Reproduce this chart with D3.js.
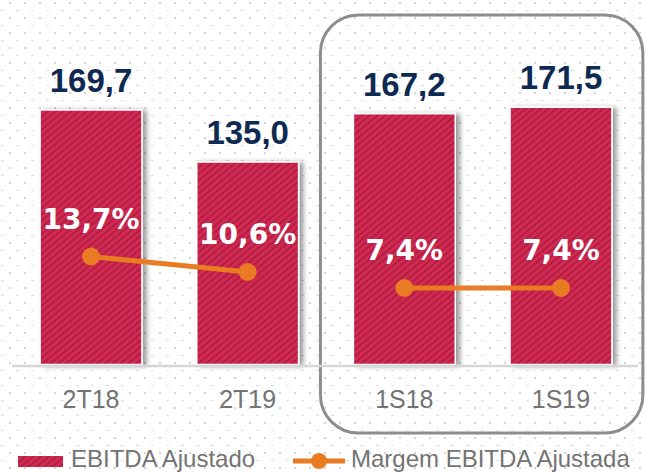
<!DOCTYPE html>
<html>
<head>
<meta charset="utf-8">
<script src="https://cdn.jsdelivr.net/npm/d3@7"></script>
<style>
  html, body { margin: 0; padding: 0; background: #fff; }
  svg { display: block; }
</style>
</head>
<body>
<script>
// chart data
const categories = ["2T18", "2T19", "1S18", "1S19"];
const ebitda = [169.7, 135.0, 167.2, 171.5];
const margem = [13.7, 10.6, 7.4, 7.4];
const ebitdaLabels = ["169,7", "135,0", "167,2", "171,5"];
const margemLabels = ["13,7%", "10,6%", "7,4%", "7,4%"];
const lineGroups = [["2T18", "2T19"], ["1S18", "1S19"]];
const legendLabels = ["EBITDA Ajustado", "Margem EBITDA Ajustada"];

const W = 646, H = 472;
const BASE = 364.5;

const svg = d3.select("body").append("svg")
    .attr("width", W)
    .attr("height", H);

const defs = svg.append("defs");

// dotted slide background
const dots = defs.append("pattern")
    .attr("id", "dots")
    .attr("patternUnits", "userSpaceOnUse")
    .attr("width", 15).attr("height", 15);
dots.append("rect").attr("x", 9).attr("y", 2).attr("width", 2).attr("height", 2).attr("fill", "#d4d4d4");
dots.append("rect").attr("x", 1).attr("y", 10).attr("width", 3).attr("height", 1).attr("fill", "#dcdcdc");

// striped bar fill
const stripes = defs.append("pattern")
    .attr("id", "stripes")
    .attr("patternUnits", "userSpaceOnUse")
    .attr("width", 5).attr("height", 5)
    .attr("patternTransform", "rotate(-40)");
stripes.append("rect").attr("width", 5).attr("height", 5).attr("fill", "#d02a53");
stripes.append("rect").attr("width", 5).attr("height", 2).attr("fill", "#b41f42");

const shadow = defs.append("filter")
    .attr("id", "shadow")
    .attr("x", "-10%").attr("y", "-10%")
    .attr("width", "130%").attr("height", "120%");
shadow.append("feDropShadow")
    .attr("dx", 4).attr("dy", 1)
    .attr("stdDeviation", 2.5)
    .attr("flood-color", "#000")
    .attr("flood-opacity", 0.4);

svg.append("rect")
    .attr("width", W).attr("height", H)
    .attr("fill", "url(#dots)");

// scales
const x = d3.scaleBand()
    .domain(categories)
    .range([12.7, 639.3])
    .paddingInner(0.35)
    .paddingOuter(0.175);

const y = d3.scaleLinear().domain([0, 180]).range([BASE, BASE - 270]);
const y2 = d3.scaleLinear().domain([0, 10]).range([325, 275]);

const cx = c => x(c) + x.bandwidth() / 2;

// highlight box around semester figures
svg.append("rect")
    .attr("x", x("1S18") - 33)
    .attr("y", 15)
    .attr("width", x("1S19") + x.bandwidth() + 31 - (x("1S18") - 33))
    .attr("height", 418)
    .attr("rx", 38).attr("ry", 38)
    .attr("fill", "none")
    .attr("stroke", "#8d8d8f")
    .attr("stroke-width", 3);

// bars
svg.append("g")
    .selectAll("rect")
    .data(categories)
    .join("rect")
    .attr("x", d => x(d))
    .attr("y", (d, i) => y(ebitda[i]))
    .attr("width", x.bandwidth())
    .attr("height", (d, i) => y(0) - y(ebitda[i]))
    .attr("fill", "url(#stripes)")
    .attr("stroke", "#fff")
    .attr("stroke-width", 1.5)
    .attr("filter", "url(#shadow)");

// baseline
svg.append("line")
    .attr("x1", 12).attr("x2", 638)
    .attr("y1", BASE + 1.5).attr("y2", BASE + 1.5)
    .attr("stroke", "#d6d6d6")
    .attr("stroke-width", 2.5);

// value labels
svg.append("g")
    .selectAll("text")
    .data(categories)
    .join("text")
    .attr("x", d => cx(d))
    .attr("y", (d, i) => y(ebitda[i]) - 18)
    .attr("text-anchor", "middle")
    .attr("font-family", "Liberation Sans, Arial, sans-serif")
    .attr("font-weight", "bold")
    .attr("font-size", 33)
    .attr("fill", "#0f2a52")
    .text((d, i) => ebitdaLabels[i]);

// margin line
const line = d3.line()
    .x(d => cx(d))
    .y(d => y2(margem[categories.indexOf(d)]));

svg.append("g")
    .selectAll("path")
    .data(lineGroups)
    .join("path")
    .attr("d", line)
    .attr("fill", "none")
    .attr("stroke", "#e97b22")
    .attr("stroke-width", 5);

svg.append("g")
    .selectAll("circle")
    .data(categories)
    .join("circle")
    .attr("cx", d => cx(d))
    .attr("cy", (d, i) => y2(margem[i]))
    .attr("r", 9)
    .attr("fill", "#e97b22");

svg.append("g")
    .selectAll("text")
    .data(categories)
    .join("text")
    .attr("x", d => cx(d))
    .attr("y", (d, i) => y2(margem[i]) - 28)
    .attr("text-anchor", "middle")
    .attr("font-family", "DejaVu Sans, Verdana, sans-serif")
    .attr("font-weight", "bold")
    .attr("font-size", 28)
    .attr("fill", "#fff")
    .text((d, i) => margemLabels[i]);

// category axis
const xAxis = svg.append("g")
    .attr("transform", `translate(0,${BASE})`)
    .call(d3.axisBottom(x).tickSize(0).tickPadding(26));
xAxis.select(".domain").remove();
xAxis.selectAll("text")
    .attr("font-family", "Liberation Sans, Arial, sans-serif")
    .attr("font-size", 25)
    .attr("fill", "#737373");

// legend
const legend = svg.append("g");
legend.append("rect")
    .attr("x", 18).attr("y", 456)
    .attr("width", 45).attr("height", 11)
    .attr("fill", "url(#stripes)");
legend.append("text")
    .attr("x", 71).attr("y", 467)
    .attr("font-family", "Liberation Sans, Arial, sans-serif")
    .attr("font-size", 24)
    .attr("fill", "#737373")
    .text(legendLabels[0]);
legend.append("line")
    .attr("x1", 293).attr("x2", 345)
    .attr("y1", 461).attr("y2", 461)
    .attr("stroke", "#e97b22")
    .attr("stroke-width", 5);
legend.append("circle")
    .attr("cx", 319).attr("cy", 461).attr("r", 8)
    .attr("fill", "#e97b22");
legend.append("text")
    .attr("x", 351).attr("y", 467)
    .attr("font-family", "Liberation Sans, Arial, sans-serif")
    .attr("font-size", 24)
    .attr("fill", "#737373")
    .text(legendLabels[1]);
</script>
</body>
</html>
